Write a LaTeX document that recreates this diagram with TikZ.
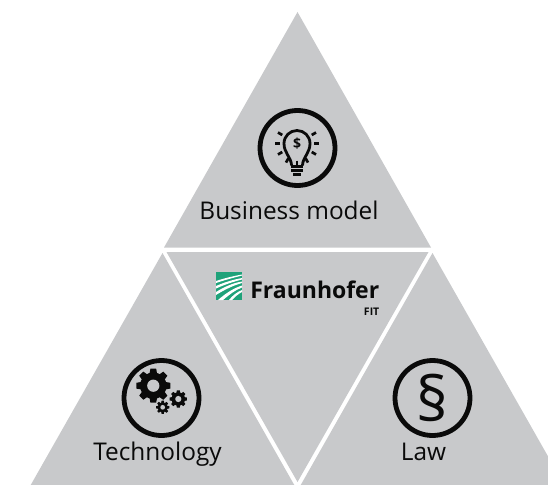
\documentclass[tikz,border=0pt]{standalone}
\usepackage{fontspec}
\usetikzlibrary{calc}
\setmainfont{Open Sans}
\definecolor{panel}{HTML}{C8C9CB}
\definecolor{fhgreen}{HTML}{1FA27A}
\definecolor{ink}{HTML}{0A0A0A}
\tikzset{
  x=1pt,y=-1pt,
  panelshape/.style={fill=panel,draw=none},
  ring/.style={draw=ink,line width=4.8pt},
  label/.style={text=ink,font=\fontsize{24.4}{26}\selectfont,anchor=base,inner sep=0pt},
  bulbline/.style={draw=ink,line width=2.8pt,line cap=round,line join=round},
  ray/.style={draw=ink,line width=2.7pt},
  gear/.pic={
    \fill[ink] (0,0) circle (.78);
    \foreach \a in {0,45,...,315}{
      \fill[ink,rotate=\a] (-.17,-1) -- (.17,-1) -- (.24,-.6) -- (-.24,-.6) -- cycle;
    }
    \fill[panel] (0,0) circle (.36);
  }
}
\begin{document}
\begin{tikzpicture}
\useasboundingbox (0,0) rectangle (548,484);
\begin{scope}
\clip (0,0) rectangle (548,484);
\fill[panelshape] (297.5,12) -- (431,247.5) -- (164,247.5) -- cycle;
\fill[panelshape] (166.5,252) -- (428.5,252) -- (297.5,482) -- cycle;
\fill[panelshape] (162.5,253) -- (296,488) -- (29,488) -- cycle;
\fill[panelshape] (432.5,253) -- (566,488) -- (299,488) -- cycle;
\end{scope}

% rings
\draw[ring] (297.5,148) circle (37.5);
\draw[ring] (161.5,398) circle (37.5);
\draw[ring] (432.5,398) circle (37.5);

% bulb icon
\draw[bulbline] (291.5,165) .. controls (291,157) and (284,153) .. (284,143.5)
  .. controls (284,136) and (290,130.5) .. (297,130.5)
  .. controls (304,130.5) and (310,136) .. (310,143.5)
  .. controls (310,153) and (303,157) .. (302.5,165);
\draw[bulbline,line width=2.5pt,line cap=butt] (291,166.7) -- (303,166.7);
\draw[bulbline,line width=2.5pt,line cap=butt] (291,170.7) -- (303,170.7);
\draw[bulbline,line width=2.5pt,line cap=butt] (293,174.7) -- (301,174.7);
\foreach \a in {90,60,120,30,150,0,180,-30,210}{
  \draw[ray] ($(297,143.5)+(\a:17)$) -- ($(297,143.5)+(\a:22)$);
}
\node[text=ink,font=\bfseries\fontsize{14}{15}\selectfont,inner sep=0pt] (dollar) at (297,143.5) {\$};

% gears
\pic[scale=17] at (153.3,385.7) {gear};
\pic[scale=8.6] at (178.3,399) {gear};
\pic[scale=6.6] at (162.7,407.3) {gear};

% paragraph sign
\node[text=ink,font=\fontsize{62}{64}\selectfont,inner sep=0pt] (para) at (432.5,398) {§};

% labels
\node[label] (biz) at (289,219) {Business model};
\node[label] (tech) at (157.5,460) {Technology};
\node[label] (law) at (423.5,460) {Law};

% Fraunhofer logo
\begin{scope}
\clip (216,272) rectangle (242,300);
\fill[fhgreen] (216,272) rectangle (242,300);
\fill[white] (216,281) .. controls (225,278) and (234,276) .. (242,274.5) -- (242,275.6) .. controls (234,277.5) and (225,280) .. (216,283) -- cycle;
\fill[white] (216,286) .. controls (225,282) and (234,279.5) .. (242,278) -- (242,279.5) .. controls (234,281.5) and (225,284.5) .. (216,288.5) -- cycle;
\fill[white] (216,292) .. controls (224,287) and (233,283) .. (242,281.5) -- (242,283) .. controls (233,285.5) and (224,290) .. (216,295) -- cycle;
\fill[white] (218,300) .. controls (226,293) and (234,288) .. (242,285.5) -- (242,287.5) .. controls (235,290) and (229,295) .. (223,300) -- cycle;
\fill[white] (229,300) .. controls (232,296) and (237,292) .. (242,290) -- (242,292) .. controls (238,294) and (235,297) .. (232,300) -- cycle;
\end{scope}
\node[text=ink,font=\bfseries\fontsize{23}{25}\selectfont,anchor=base east,inner sep=0pt] (fh) at (379.5,298) {Fraunhofer};
\node[text=ink,font=\bfseries\fontsize{10.5}{12}\selectfont,anchor=base east,inner sep=0pt] (fit) at (379.5,315) {FIT};
\end{tikzpicture}
\end{document}
